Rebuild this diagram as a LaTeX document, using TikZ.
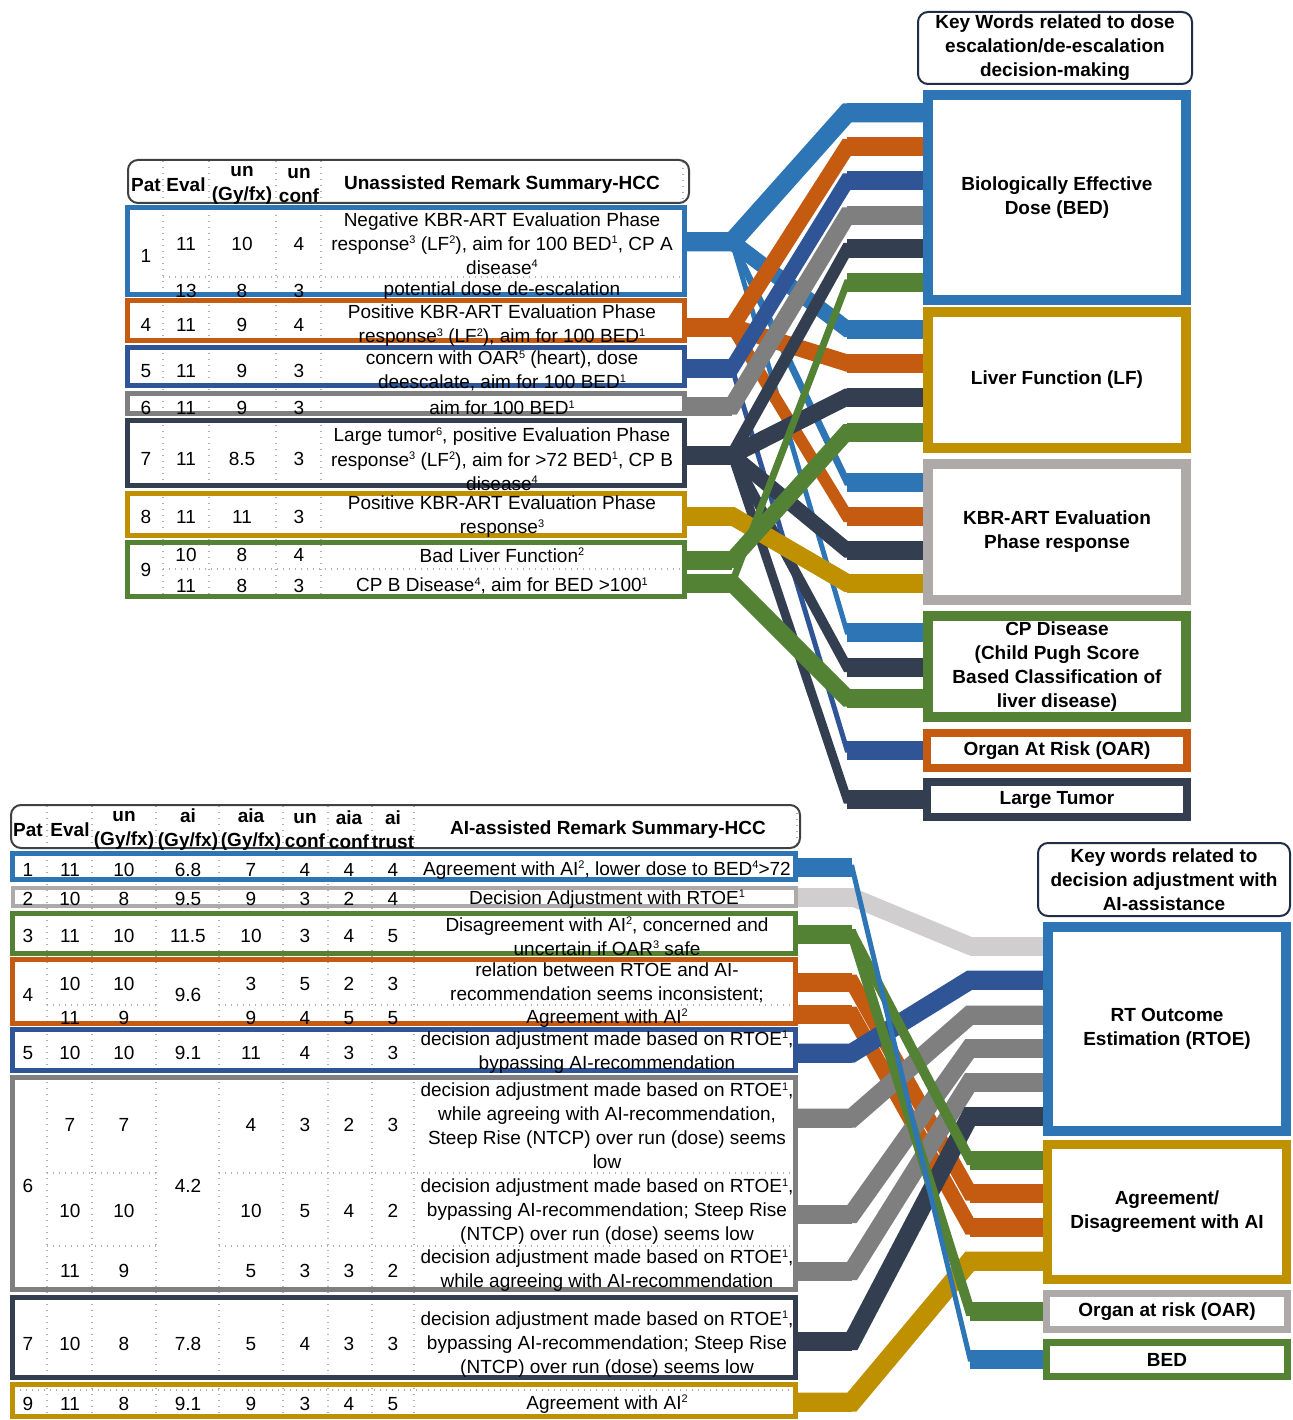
\documentclass[tikz,border=0pt]{standalone}
\usepackage{fontspec}
\setmainfont{Liberation Sans}
\definecolor{cblue}{RGB}{46,117,182}
\definecolor{corange}{RGB}{197,90,17}
\definecolor{cdblue}{RGB}{47,85,151}
\definecolor{cgray}{RGB}{127,127,127}
\definecolor{cslate}{RGB}{51,63,80}
\definecolor{cgold}{RGB}{191,144,0}
\definecolor{cgreen}{RGB}{84,130,53}
\definecolor{clgray}{RGB}{174,170,170}
\definecolor{cvlgray}{RGB}{208,206,206}
\definecolor{cnavy}{RGB}{31,45,70}
\definecolor{cdark}{RGB}{64,64,64}
\definecolor{cdot}{RGB}{175,175,175}
\newcommand\mysup[1]{\raisebox{6.5pt}{\fontsize{11}{11}\selectfont #1}}
\tikzset{
  txt/.style={inner sep=0pt, align=center, font=\fontsize{19}{24}\selectfont},
  btxt/.style={inner sep=0pt, align=center, font=\fontsize{19}{24}\selectfont\bfseries},
  dotl/.style={draw=cdot, line width=1.4pt, dash pattern=on 1.4pt off 4.6pt},
  rowbox/.style={draw=#1, line width=5pt, inner sep=0pt},
  keybox/.style={draw=#1, line width=10pt, inner sep=0pt, btxt},
  hdrbox/.style={draw=#1, line width=2pt, rounded corners=10pt, inner sep=0pt},
  band/.style={line cap=butt, line join=miter},
}
\newcommand\linkband[6]{%
  \draw[band,draw=#1,line width=#2pt] ([xshift=-3pt]#3.east|-#4) -- (#4) -- (#5) -- ([xshift=3pt]#6.west|-#5);
  \draw[band,draw=#1,line width=19pt] (#5) -- ([xshift=3pt]#6.west|-#5);}
\newcommand\stubband[3]{%
  \draw[band,draw=#1,line width=19pt] ([xshift=-3pt]#2.east|-#3) -- (#3);}
\newcommand\toprow[5]{%
  \node[txt] (#1e) at (186,#2) {#3};
  \node[txt] (#1u) at (242,#2) {#4};
  \node[txt] (#1c) at (299,#2) {#5};}
\newcommand\botcells[8]{%
  \node[txt] (#1e) at (70,#2) {#3};
  \node[txt] (#1u) at (124,#2) {#4};
  \node[txt] (#1a) at (251,#2) {#5};
  \node[txt] (#1c) at (305,#2) {#6};
  \node[txt] (#1d) at (349,#2) {#7};
  \node[txt] (#1t) at (393,#2) {#8};}
\begin{document}
\begin{tikzpicture}[x=1pt,y=-1pt]
\useasboundingbox (0,0) rectangle (1292,1420);
\fill[white] (0,0) rectangle (1292,1420);

% ---------- dotted grid lines ----------
\foreach \x in {163,209,276,321} \draw[dotl] (\x,161) -- (\x,597);
\draw[dotl] (683,162) -- (683,202);
\draw[dotl] (163,277) -- (684,277);
\draw[dotl] (163,569) -- (684,569);
\foreach \x in {47,92,156,219,283,328,372,414} \draw[dotl] (\x,806) -- (\x,1417);
\draw[dotl] (797,807) -- (797,846);
\foreach \y in {1005,1173,1246} {\draw[dotl] (47,\y) -- (156,\y); \draw[dotl] (219,\y) -- (795,\y);}
\draw[dotl] (14,1390) -- (795,1390);

% ---------- row boxes (top) ----------
\node[rowbox=cblue, minimum width=557pt, minimum height=87pt] (r1) at (406,251) {};
\node[rowbox=corange, minimum width=557pt, minimum height=40pt] (r4) at (406,320.5) {};
\node[rowbox=cdblue, minimum width=557pt, minimum height=38pt] (r5) at (406,366.5) {};
\node[rowbox=cgray, minimum width=557pt, minimum height=20pt] (r6) at (406,403.5) {};
\node[rowbox=cslate, minimum width=557pt, minimum height=65pt] (r7) at (406,453) {};
\node[rowbox=cgold, minimum width=557pt, minimum height=42pt] (r8) at (406,514.5) {};
\node[rowbox=cgreen, minimum width=557pt, minimum height=54pt] (r9) at (406,569.5) {};

% ---------- row boxes (bottom) ----------
\node[rowbox=cblue, minimum width=783pt, minimum height=26pt] (b1) at (404,866.5) {};
\node[rowbox=clgray, line width=4pt, minimum width=783pt, minimum height=18pt] (b2) at (404,897) {};
\node[rowbox=cgreen, minimum width=783pt, minimum height=40pt] (b3) at (404,933.5) {};
\node[rowbox=corange, minimum width=783pt, minimum height=64pt] (b4) at (404,991.5) {};
\node[rowbox=cdblue, minimum width=783pt, minimum height=41pt] (b5) at (404,1050) {};
\node[rowbox=cgray, minimum width=783pt, minimum height=212pt] (b6) at (404,1183.5) {};
\node[rowbox=cslate, minimum width=783pt, minimum height=80pt] (b7) at (404,1337.5) {};
\node[rowbox=cgold, minimum width=783pt, minimum height=32pt] (b9) at (404,1400.5) {};

% ---------- key boxes ----------
\node[hdrbox=cnavy, btxt, minimum width=274pt, minimum height=72pt] (hTR) at (1055,48) {Key Words related to dose\\escalation/de-escalation\\decision-making};
\node[keybox=cblue, minimum width=258pt, minimum height=205pt] (bed) at (1057,197.5) {Biologically Effective\\Dose (BED)};
\node[keybox=cgold, minimum width=258pt, minimum height=136pt] (lf) at (1057,380) {Liver Function (LF)};
\node[keybox=clgray, minimum width=258pt, minimum height=136pt] (kbr) at (1057,532) {KBR-ART Evaluation\\Phase response};
\node[keybox=cgreen, minimum width=258pt, minimum height=101pt] (cp) at (1057,666.5) {CP Disease\\(Child Pugh Score\\Based Classification of\\liver disease)};
\node[keybox=corange, line width=8pt, minimum width=260pt, minimum height=35pt] (oar) at (1057,750.5) {Organ At Risk (OAR)};
\node[keybox=cslate, line width=8pt, minimum width=260pt, minimum height=35pt] (lt) at (1057,799.5) {Large Tumor};

\node[hdrbox=cnavy, btxt, minimum width=252pt, minimum height=73pt] (hBR) at (1164,879.5) {Key words related to\\decision adjustment with\\AI-assistance};
\node[keybox=cblue, minimum width=238pt, minimum height=204pt] (rtoe) at (1167,1029) {RT Outcome\\Estimation (RTOE)};
\node[keybox=cgold, line width=9pt, minimum width=239pt, minimum height=135pt] (agree) at (1167,1212) {Agreement/\\Disagreement with AI};
\node[keybox=clgray, line width=7pt, minimum width=241pt, minimum height=36pt] (oarb) at (1167,1311.5) {Organ at risk (OAR)};
\node[keybox=cgreen, line width=7pt, minimum width=241pt, minimum height=34pt] (bedb) at (1167,1359.5) {BED};

% ---------- junction coordinates (top) ----------
\coordinate (jA) at (732,242);
\coordinate (jB) at (732,327);
\coordinate (jC) at (732,368);
\coordinate (jD) at (732,406);
\coordinate (jE) at (732,455);
\coordinate (jF) at (732,516);
\coordinate (jG) at (732,560);
\coordinate (jH) at (732,583);
\coordinate (kB1) at (847,113);
\coordinate (kB2) at (847,147);
\coordinate (kB3) at (847,181);
\coordinate (kB4) at (847,216);
\coordinate (kB5) at (847,249);
\coordinate (kB6) at (847,283);
\coordinate (kL1) at (847,329);
\coordinate (kL2) at (847,363);
\coordinate (kL3) at (847,397);
\coordinate (kL4) at (847,432);
\coordinate (kK1) at (847,482);
\coordinate (kK2) at (847,516);
\coordinate (kK3) at (847,550);
\coordinate (kK4) at (847,583);
\coordinate (kC1) at (847,632);
\coordinate (kC2) at (847,667);
\coordinate (kC3) at (847,698);
\coordinate (kO1) at (847,750);
\coordinate (kT1) at (847,799);

% ---------- junction coordinates (bottom) ----------
\coordinate (ja) at (852,867);
\coordinate (jb) at (852,897);
\coordinate (jc) at (852,934);
\coordinate (jd) at (852,982);
\coordinate (je) at (852,1014);
\coordinate (jf) at (852,1053);
\coordinate (jg) at (852,1118);
\coordinate (jh) at (852,1214);
\coordinate (ji) at (852,1271);
\coordinate (jj) at (852,1341);
\coordinate (jk) at (852,1402);
\coordinate (mR1) at (970,946);
\coordinate (mR2) at (970,980);
\coordinate (mR3) at (970,1015);
\coordinate (mR4) at (970,1048);
\coordinate (mR5) at (970,1082);
\coordinate (mR6) at (970,1116);
\coordinate (mA1) at (970,1160);
\coordinate (mA2) at (970,1193);
\coordinate (mA3) at (970,1227);
\coordinate (mA4) at (970,1261);
\coordinate (mO) at (970,1311);
\coordinate (mBD) at (970,1359);

% ---------- connectors (top) ----------
\linkband{cblue}{19}{r1}{jA}{kB1}{bed}
\linkband{cblue}{16}{r1}{jA}{kL1}{lf}
\linkband{cblue}{7}{r1}{jA}{kK1}{kbr}
\linkband{cblue}{5}{r1}{jA}{kC1}{cp}
\stubband{cblue}{r1}{jA}
\linkband{corange}{16}{r4}{jB}{kB2}{bed}
\linkband{corange}{17}{r4}{jB}{kL2}{lf}
\linkband{corange}{12}{r4}{jB}{kK2}{kbr}
\stubband{corange}{r4}{jB}
\linkband{cdblue}{15}{r5}{jC}{kB3}{bed}
\linkband{cdblue}{5}{r5}{jC}{kO1}{oar}
\stubband{cdblue}{r5}{jC}
\linkband{cgray}{17}{r6}{jD}{kB4}{bed}
\stubband{cgray}{r6}{jD}
\linkband{cslate}{12}{r7}{jE}{kB5}{bed}
\linkband{cslate}{17}{r7}{jE}{kL3}{lf}
\linkband{cslate}{15}{r7}{jE}{kK3}{kbr}
\linkband{cslate}{10}{r7}{jE}{kC2}{cp}
\linkband{cslate}{9}{r7}{jE}{kT1}{lt}
\stubband{cslate}{r7}{jE}
\linkband{cgold}{18}{r8}{jF}{kK4}{kbr}
\stubband{cgold}{r8}{jF}
\linkband{cgreen}{16}{r9}{jG}{kL4}{lf}
\linkband{cgreen}{7}{r9}{jH}{kB6}{bed}
\linkband{cgreen}{17}{r9}{jH}{kC3}{cp}
\stubband{cgreen}{r9}{jG}
\stubband{cgreen}{r9}{jH}

% ---------- connectors (bottom) ----------
\linkband{cvlgray}{18}{b2}{jb}{mR1}{rtoe}
\stubband{cvlgray}{b2}{jb}
\linkband{corange}{15}{b4}{jd}{mA2}{agree}
\linkband{corange}{15}{b4}{je}{mA3}{agree}
\stubband{corange}{b4}{jd}
\stubband{corange}{b4}{je}
\linkband{cdblue}{19}{b5}{jf}{mR2}{rtoe}
\stubband{cdblue}{b5}{jf}
\linkband{cgray}{19}{b6}{jg}{mR3}{rtoe}
\linkband{cgray}{18}{b6}{jh}{mR4}{rtoe}
\linkband{cgray}{18}{b6}{ji}{mR5}{rtoe}
\stubband{cgray}{b6}{jg}
\stubband{cgray}{b6}{jh}
\stubband{cgray}{b6}{ji}
\linkband{cslate}{18}{b7}{jj}{mR6}{rtoe}
\stubband{cslate}{b7}{jj}
\linkband{cgold}{19}{b9}{jk}{mA4}{agree}
\stubband{cgold}{b9}{jk}
\linkband{cgreen}{10}{b3}{jc}{mA1}{agree}
\linkband{cgreen}{10}{b3}{jc}{mO}{oarb}
\stubband{cgreen}{b3}{jc}
\linkband{cblue}{5}{b1}{ja}{mBD}{bedb}
\stubband{cblue}{b1}{ja}

% redraw key box borders over band ends
\node[keybox=cblue, minimum width=258pt, minimum height=205pt] (bedF) at (1057,197.5) {};
\node[keybox=cgold, minimum width=258pt, minimum height=136pt] (lfF) at (1057,380) {};
\node[keybox=clgray, minimum width=258pt, minimum height=136pt] (kbrF) at (1057,532) {};
\node[keybox=cgreen, minimum width=258pt, minimum height=101pt] (cpF) at (1057,666.5) {};
\node[keybox=corange, line width=8pt, minimum width=260pt, minimum height=35pt] (oarF) at (1057,750.5) {};
\node[keybox=cslate, line width=8pt, minimum width=260pt, minimum height=35pt] (ltF) at (1057,799.5) {};
\node[keybox=cblue, minimum width=238pt, minimum height=204pt] (rtoeF) at (1167,1029) {};
\node[keybox=cgold, line width=9pt, minimum width=239pt, minimum height=135pt] (agreeF) at (1167,1212) {};
\node[keybox=clgray, line width=7pt, minimum width=241pt, minimum height=36pt] (oarbF) at (1167,1311.5) {};
\node[keybox=cgreen, line width=7pt, minimum width=241pt, minimum height=34pt] (bedbF) at (1167,1359.5) {};
% redraw row boxes over band starts
\foreach \n/\c/\w/\h/\x/\y in {r1F/cblue/557/87/406/251, r4F/corange/557/40/406/320.5, r5F/cdblue/557/38/406/366.5, r6F/cgray/557/20/406/403.5, r7F/cslate/557/65/406/453, r8F/cgold/557/42/406/514.5, r9F/cgreen/557/54/406/569.5, b1F/cblue/783/26/404/866.5, b3F/cgreen/783/40/404/933.5, b4F/corange/783/64/404/991.5, b5F/cdblue/783/41/404/1050, b6F/cgray/783/212/404/1183.5, b7F/cslate/783/80/404/1337.5, b9F/cgold/783/32/404/1400.5}
  \node[rowbox=\c, minimum width=\w pt, minimum height=\h pt] (\n) at (\x,\y) {};
\node[rowbox=clgray, line width=4pt, minimum width=783pt, minimum height=18pt] (b2F) at (404,897) {};

% ---------- top table header ----------
\node[hdrbox=cdark, minimum width=561pt, minimum height=43pt] (hTL) at (408.5,181.5) {};
\node[btxt] (hTLp) at (146,185) {Pat};
\node[btxt] (hTLe) at (186,185) {Eval};
\node[btxt] (hTLu) at (242,185) {un\\(Gy/fx)};
\node[btxt] (hTLc) at (299,185) {un\\conf};
\node[btxt] (hTLr) at (502,185) {Unassisted Remark Summary-HCC};

% ---------- top table rows ----------
\node[txt] (t1p) at (146,256) {1};
\toprow{t1a}{244}{11}{10}{4}
\node[txt] (t1r) at (502,243.5) {Negative KBR-ART Evaluation Phase\\response\mysup{3} (LF\mysup{2}), aim for 100 BED\mysup{1}, CP A\\disease\mysup{4}};
\toprow{t1b}{291}{13}{8}{3}
\node[txt] (t1s) at (502,291) {potential dose de-escalation};

\node[txt] (t4p) at (146,325) {4};
\toprow{t4}{325}{11}{9}{4}
\node[txt] (t4r) at (502,326) {Positive KBR-ART Evaluation Phase\\response\mysup{3} (LF\mysup{2}), aim for 100 BED\mysup{1}};

\node[txt] (t5p) at (146,371) {5};
\toprow{t5}{371}{11}{9}{3}
\node[txt] (t5r) at (502,371) {concern with OAR\mysup{5} (heart), dose\\deescalate, aim for 100 BED\mysup{1}};

\node[txt] (t6p) at (146,408) {6};
\toprow{t6}{408}{11}{9}{3}
\node[txt] (t6r) at (502,408) {aim for 100 BED\mysup{1}};

\node[txt] (t7p) at (146,459) {7};
\toprow{t7}{459}{11}{8.5}{3}
\node[txt] (t7r) at (502,459) {Large tumor\mysup{6}, positive Evaluation Phase\\response\mysup{3} (LF\mysup{2}), aim for >72 BED\mysup{1}, CP B\\disease\mysup{4}};

\node[txt] (t8p) at (146,517) {8};
\toprow{t8}{517}{11}{11}{3}
\node[txt] (t8r) at (502,517) {Positive KBR-ART Evaluation Phase\\response\mysup{3}};

\node[txt] (t9p) at (146,570) {9};
\toprow{t9a}{555}{10}{8}{4}
\node[txt] (t9r) at (502,555) {Bad Liver Function\mysup{2}};
\toprow{t9b}{586}{11}{8}{3}
\node[txt] (t9s) at (502,586) {CP B Disease\mysup{4}, aim for BED >100\mysup{1}};

% ---------- bottom table header ----------
\node[hdrbox=cdark, minimum width=789pt, minimum height=43pt] (hBL) at (405.5,826.5) {};
\node[btxt] (hBLp) at (28,830) {Pat};
\node[btxt] (hBLe) at (70,830) {Eval};
\node[btxt] (hBLu) at (124,830) {un\\(Gy/fx)};
\node[btxt] (hBLi) at (188,830) {ai\\(Gy/fx)};
\node[btxt] (hBLa) at (251,830) {aia\\(Gy/fx)};
\node[btxt] (hBLc) at (305,830) {un\\conf};
\node[btxt] (hBLd) at (349,830) {aia\\conf};
\node[btxt] (hBLt) at (393,830) {ai\\trust};
\node[btxt] (hBLr) at (608,830) {AI-assisted Remark Summary-HCC};

% ---------- bottom table rows ----------
\node[txt] (b1p) at (28,870) {1};
\node[txt] (b1i) at (188,870) {6.8};
\botcells{b1}{870}{11}{10}{7}{4}{4}{4}
\node[txt] (b1r) at (607,870) {Agreement with AI\mysup{2}, lower dose to BED\mysup{4}>72};

\node[txt] (b2p) at (28,899) {2};
\node[txt] (b2i) at (188,899) {9.5};
\botcells{b2}{899}{10}{8}{9}{3}{2}{4}
\node[txt] (b2r) at (607,899) {Decision Adjustment with RTOE\mysup{1}};

\node[txt] (b3p) at (28,936) {3};
\node[txt] (b3i) at (188,936) {11.5};
\botcells{b3}{936}{11}{10}{10}{3}{4}{5}
\node[txt] (b3r) at (607,936) {Disagreement with AI\mysup{2}, concerned and\\uncertain if OAR\mysup{3} safe};

\node[txt] (b4p) at (28,995) {4};
\node[txt] (b4i) at (188,995) {9.6};
\botcells{b4a}{984}{10}{10}{3}{5}{2}{3}
\botcells{b4b}{1018}{11}{9}{9}{4}{5}{5}
\node[txt] (b4r) at (607,982.5) {relation between RTOE and AI-\\recommendation seems inconsistent;};
\node[txt] (b4s) at (607,1018) {Agreement with AI\mysup{2}};

\node[txt] (b5p) at (28,1053) {5};
\node[txt] (b5i) at (188,1053) {9.1};
\botcells{b5}{1053}{10}{10}{11}{4}{3}{3}
\node[txt] (b5r) at (607,1052) {decision adjustment made based on RTOE\mysup{1},\\bypassing AI-recommendation};

\node[txt] (b6p) at (28,1186) {6};
\node[txt] (b6i) at (188,1186) {4.2};
\botcells{b6a}{1125}{7}{7}{4}{3}{2}{3}
\botcells{b6b}{1211}{10}{10}{10}{5}{4}{2}
\botcells{b6c}{1271}{11}{9}{5}{3}{3}{2}
\node[txt] (b6r) at (607,1126) {decision adjustment made based on RTOE\mysup{1},\\while agreeing with AI-recommendation,\\Steep Rise (NTCP) over run (dose) seems\\low};
\node[txt] (b6s) at (607,1211.5) {decision adjustment made based on RTOE\mysup{1},\\bypassing AI-recommendation; Steep Rise\\(NTCP) over run (dose) seems low};
\node[txt] (b6t) at (607,1270.5) {decision adjustment made based on RTOE\mysup{1},\\while agreeing with AI-recommendation};

\node[txt] (b7p) at (28,1344) {7};
\node[txt] (b7i) at (188,1344) {7.8};
\botcells{b7}{1344}{10}{8}{5}{4}{3}{3}
\node[txt] (b7r) at (607,1344) {decision adjustment made based on RTOE\mysup{1},\\bypassing AI-recommendation; Steep Rise\\(NTCP) over run (dose) seems low};

\node[txt] (b9p) at (28,1404) {9};
\node[txt] (b9i) at (188,1404) {9.1};
\botcells{b9}{1404}{11}{8}{9}{3}{4}{5}
\node[txt] (b9r) at (607,1404) {Agreement with AI\mysup{2}};
\end{tikzpicture}
\end{document}
